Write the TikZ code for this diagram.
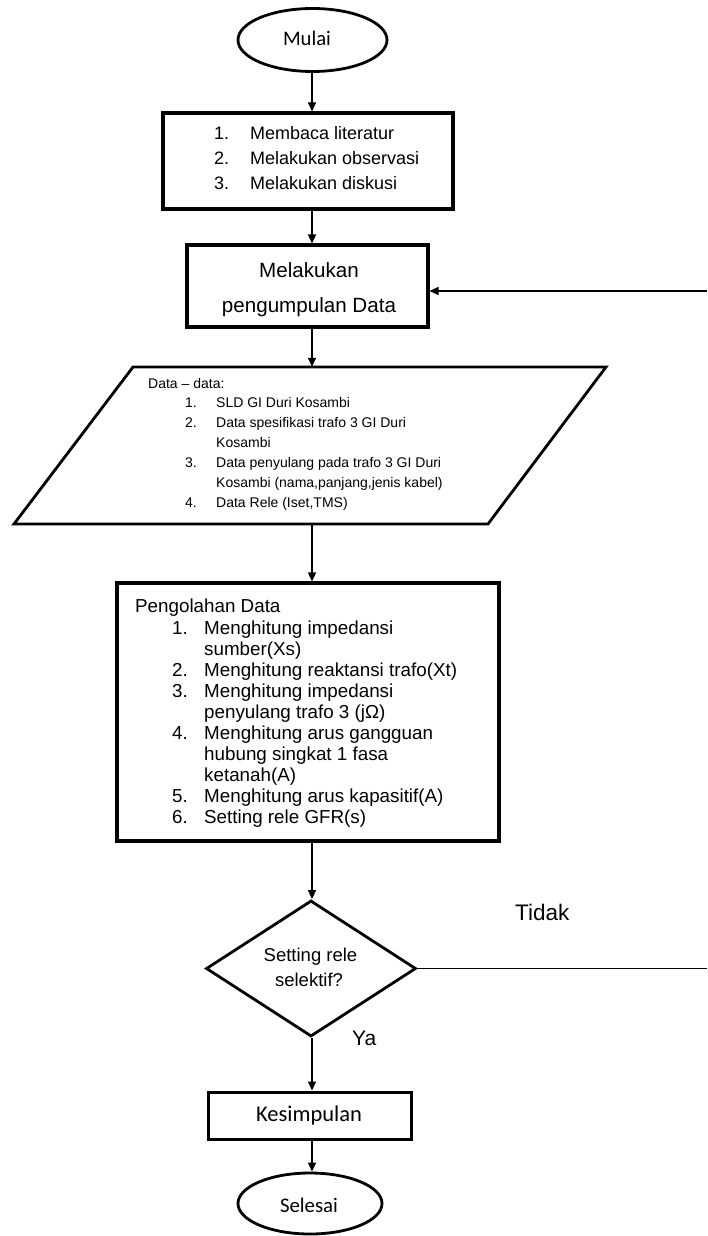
\documentclass[tikz,border=0pt]{standalone}
\usepackage{fontspec}
\setmainfont{Liberation Sans}
\newfontfamily\calfont{Carlito}
\usetikzlibrary{shapes.geometric,arrows.meta}
\newcommand\fsz[2]{\fontsize{#1}{#2}\selectfont}
\begin{document}
\begin{tikzpicture}[x=1pt,y=-1pt,
  box/.style={draw, line width=3.1pt, inner sep=0, rectangle},
  term/.style={draw, line width=2.8pt, ellipse, inner sep=0},
  arr/.style={line width=1.5pt, -{Triangle[length=9pt,width=8pt]}},
  plain/.style={line width=1.5pt},
  txt/.style={inner sep=0, anchor=base west},
  ctxt/.style={inner sep=0, anchor=base},
  fa/.style={font=\fsz{18}{22}},
  fb/.style={font=\fsz{14}{20}},
  fc/.style={font=\fsz{18.8}{22}},
]
\useasboundingbox (0,0) rectangle (707,1236);
\coordinate (col) at (312,0);

% Mulai
\node[term, minimum width=149, minimum height=63] (mulai) at (312.5,40) {};
\node[ctxt, font=\calfont\fsz{20.7}{24}] (mulaitxt) at (307,45.5) {Mulai};

% Box 1
\node[box, minimum width=290, minimum height=96] (b1) at (308,161) {};
\node[txt, fa] (b1n1) at (214,139.5) {1.};
\node[txt, fa] (b1t1) at (250,139.5) {Membaca literatur};
\node[txt, fa] (b1n2) at (214,164) {2.};
\node[txt, fa] (b1t2) at (250,164) {Melakukan observasi};
\node[txt, fa] (b1n3) at (214,189.5) {3.};
\node[txt, fa] (b1t3) at (250,189.5) {Melakukan diskusi};

% Box 2
\node[box, minimum width=241, minimum height=82] (b2) at (307.5,286) {};
\node[ctxt, font=\fsz{20.6}{24}] (b2t1) at (309,277) {Melakukan};
\node[ctxt, font=\fsz{20.6}{24}] (b2t2) at (309,312.5) {pengumpulan Data};

% Parallelogram
\draw[line width=2.8pt, line join=miter] (133,367) -- (606,367) -- (488,524) -- (14,524) -- cycle;
\node[inner sep=0, minimum width=474, minimum height=157] (par) at (310,445.5) {};
\node[txt, fb] (ph) at (148,388) {Data -- data:};
\node[txt, fb] (pn1) at (185,407) {1.};
\node[txt, fb] (pt1) at (216,407) {SLD GI Duri Kosambi};
\node[txt, fb] (pn2) at (185,427) {2.};
\node[txt, fb] (pt2) at (216,427) {Data spesifikasi trafo 3 GI Duri};
\node[txt, fb] (pt2b) at (216,447) {Kosambi};
\node[txt, fb] (pn3) at (185,467) {3.};
\node[txt, fb] (pt3) at (216,467) {Data penyulang pada trafo 3 GI Duri};
\node[txt, fb] (pt3b) at (216,487) {Kosambi (nama,panjang,jenis kabel)};
\node[txt, fb] (pn4) at (185,507) {4.};
\node[txt, fb] (pt4) at (216,507) {Data Rele (Iset,TMS)};

% Box 3
\node[box, minimum width=382, minimum height=258] (b3) at (308,712) {};
\node[txt, fc] (qh) at (135,612.5) {Pengolahan Data};
\node[txt, fc] (qn1) at (172,634) {1.};
\node[txt, fc] (qt1) at (204,634) {Menghitung impedansi};
\node[txt, fc] (qt1b) at (204,655) {sumber(Xs)};
\node[txt, fc] (qn2) at (172,676) {2.};
\node[txt, fc] (qt2) at (204,676) {Menghitung reaktansi trafo(Xt)};
\node[txt, fc] (qn3) at (172,697) {3.};
\node[txt, fc] (qt3) at (204,697) {Menghitung impedansi};
\node[txt, fc] (qt3b) at (204,718) {penyulang trafo 3 (jΩ)};
\node[txt, fc] (qn4) at (172,739) {4.};
\node[txt, fc] (qt4) at (204,739) {Menghitung arus gangguan};
\node[txt, fc] (qt4b) at (204,760) {hubung singkat 1 fasa};
\node[txt, fc] (qt4c) at (204,781) {ketanah(A)};
\node[txt, fc] (qn5) at (172,802) {5.};
\node[txt, fc] (qt5) at (204,802) {Menghitung arus kapasitif(A)};
\node[txt, fc] (qn6) at (172,823) {6.};
\node[txt, fc] (qt6) at (204,823) {Setting rele GFR(s)};

% Decision
\node[draw, diamond, line width=2.8pt, inner sep=0, minimum width=210, minimum height=136, aspect=1.54] (dia) at (311,968.5) {};
\node[ctxt, font=\fsz{18.5}{22}] (dt1) at (310.5,961.7) {Setting rele};
\node[ctxt, font=\fsz{18.5}{22}] (dt2) at (309,986.7) {selektif?};
\node[txt, font=\fsz{22.5}{26}] (tidak) at (515,920) {Tidak};
\node[txt, font=\fsz{21}{26}] (ya) at (352,1045) {Ya};

% Kesimpulan
\node[box, line width=3pt, minimum width=203, minimum height=47] (kes) at (309.5,1115.5) {};
\node[ctxt, font=\calfont\fsz{22.5}{26}] (kestxt) at (309,1121.7) {Kesimpulan};

% Selesai
\node[term, minimum width=144, minimum height=61] (sel) at (310,1203.5) {};
\node[ctxt, font=\calfont\fsz{20.8}{24}] (seltxt) at (309,1212.7) {Selesai};

% Connectors
\draw[arr] (mulai.south -| col) -- (b1.north -| col);
\draw[arr] (b1.south -| col) -- (b2.north -| col);
\draw[arr] (b2.south -| col) -- (par.north -| col);
\draw[arr] (par.south -| col) -- (b3.north -| col);
\draw[arr] (b3.south -| col) -- (dia.north -| col);
\draw[arr] (dia.south -| col) -- (kes.north -| col);
\draw[arr] (kes.south -| col) -- (sel.north -| col);
\coordinate (rtop) at (707,291);
\coordinate (rbot) at (707,968.5);
\draw[arr] (rtop) -- (rtop -| b2.east);
\draw[plain] (dia.east) -- (rbot);
\end{tikzpicture}
\end{document}
